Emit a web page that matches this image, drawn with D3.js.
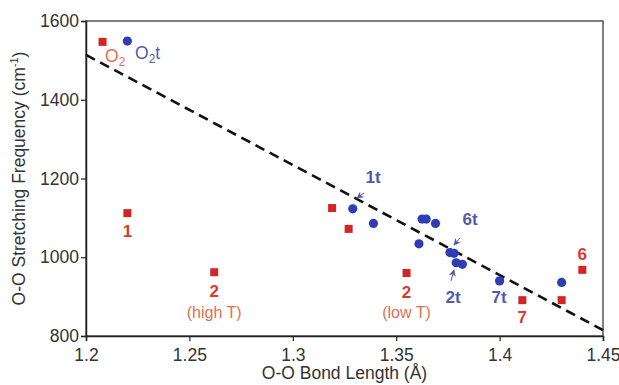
<!DOCTYPE html>
<html>
<head>
<meta charset="utf-8">
<script src="https://cdn.jsdelivr.net/npm/d3@7"></script>
<style>
  body { margin: 0; background: #fff; }
  svg { font-family: "Liberation Sans", Arial, sans-serif; }
</style>
</head>
<body>
<svg id="chart" width="619" height="385"></svg>
<script>
// experimental (red squares): O-O bond length (Å), stretching frequency (cm-1)
const exp_len  = [1.208, 1.220, 1.262, 1.319, 1.327, 1.355, 1.411, 1.430, 1.440];
const exp_freq = [1547, 1112, 962, 1125, 1072, 960, 891, 891, 968];

// theory (blue circles)
const th_len  = [1.220, 1.329, 1.339, 1.3625, 1.3645, 1.369, 1.361, 1.376, 1.378, 1.379, 1.382, 1.400, 1.430];
const th_freq = [1549, 1123, 1086, 1097, 1097, 1086, 1034, 1012, 1010, 986, 982, 940, 936];

// dashed fit line end points
const fit_len  = [1.2, 1.45];
const fit_freq = [1514, 815];

const x_ticks = [1.2, 1.25, 1.3, 1.35, 1.4, 1.45];
const y_ticks = [800, 1000, 1200, 1400, 1600];

const RED = "#d42424", RED_LBL = "#d93a2c", RED_LIGHT = "#e2704f";
const BLUE = "#2f3db4", BLUE_LBL = "#5558b3";

const svg = d3.select("#chart");
const x = d3.scaleLinear().domain([1.2, 1.45]).range([86, 603]);
const y = d3.scaleLinear().domain([800, 1600]).range([336, 21]);

// frame
svg.append("rect")
    .attr("x", x(1.2)).attr("y", y(1600))
    .attr("width", x(1.45) - x(1.2)).attr("height", y(800) - y(1600))
    .attr("fill", "none").attr("stroke", "#555").attr("stroke-width", 1.5);

// axes
const xAxis = svg.append("g")
    .attr("transform", `translate(0,${y(800)})`)
    .call(d3.axisBottom(x).tickValues(x_ticks).tickSize(5).tickFormat(d3.format("")));
const yAxis = svg.append("g")
    .attr("transform", `translate(${x(1.2)},0)`)
    .call(d3.axisLeft(y).tickValues(y_ticks).tickSize(5).tickFormat(d3.format("")));

[xAxis, yAxis].forEach(g => {
  g.select(".domain").attr("stroke", "#222").attr("stroke-width", 1.5);
  g.selectAll(".tick line").attr("stroke", "#222").attr("stroke-width", 1.2);
  g.selectAll(".tick text")
      .attr("font-size", 17.5).attr("fill", "#333")
      .attr("font-family", "Liberation Sans, Arial, sans-serif");
});
xAxis.selectAll(".tick text").attr("dy", "0.95em");
yAxis.selectAll(".tick text").attr("x", -7);

// axis titles
svg.append("text")
    .attr("x", (x(1.2) + x(1.45)) / 2).attr("y", 379)
    .attr("text-anchor", "middle").attr("font-size", 17.5).attr("fill", "#333")
    .text("O-O Bond Length (Å)");

const yt = svg.append("text")
    .attr("transform", `translate(25,${(y(800) + y(1600)) / 2}) rotate(-90)`)
    .attr("text-anchor", "middle").attr("font-size", 17.5).attr("fill", "#333");
yt.append("tspan").text("O-O Stretching Frequency (cm");
yt.append("tspan").attr("font-size", 11).attr("dy", -7).text("-1");
yt.append("tspan").attr("dy", 7).text(")");

// dashed fit line
svg.append("path")
    .datum(d3.zip(fit_len, fit_freq))
    .attr("d", d3.line().x(d => x(d[0])).y(d => y(d[1])))
    .attr("fill", "none").attr("stroke", "#111")
    .attr("stroke-width", 2.6).attr("stroke-dasharray", "10,6");

// markers
svg.append("g").selectAll("rect")
    .data(d3.zip(exp_len, exp_freq))
    .join("rect")
    .attr("x", d => x(d[0]) - 4).attr("y", d => y(d[1]) - 4)
    .attr("width", 8).attr("height", 8).attr("fill", RED);

svg.append("g").selectAll("circle")
    .data(d3.zip(th_len, th_freq))
    .join("circle")
    .attr("cx", d => x(d[0])).attr("cy", d => y(d[1]))
    .attr("r", 4.6).attr("fill", BLUE);

// labels
function label(tx, ty, str, color, bold, size=17, anchor="middle") {
  return svg.append("text")
      .attr("x", tx).attr("y", ty)
      .attr("text-anchor", anchor)
      .attr("font-size", size)
      .attr("font-weight", bold ? "bold" : "normal")
      .attr("fill", color)
      .text(str);
}

// O2 / O2t with subscripts
const o2 = svg.append("text").attr("x", 105).attr("y", 62)
    .attr("font-size", 17.5).attr("fill", RED_LIGHT);
o2.append("tspan").text("O");
o2.append("tspan").attr("font-size", 12).attr("dy", 4).text("2");

const o2t = svg.append("text").attr("x", 135).attr("y", 59)
    .attr("font-size", 17.5).attr("fill", BLUE_LBL);
o2t.append("tspan").text("O");
o2t.append("tspan").attr("font-size", 12).attr("dy", 4).text("2");
o2t.append("tspan").attr("dy", -4).text("t");

label(x(1.220), 237, "1", RED_LBL, true);
label(x(1.262), 297, "2", RED_LBL, true);
label(x(1.262), 318, "(high T)", RED_LIGHT, false, 16);
label(x(1.355), 298, "2", RED_LBL, true);
label(x(1.355), 318, "(low T)", RED_LIGHT, false, 16);
label(x(1.411), 323, "7", RED_LBL, true);
label(x(1.440), 260, "6", RED_LBL, true);

label(373, 183, "1t", BLUE_LBL, true);
label(470, 225, "6t", BLUE_LBL, true);
label(453, 303, "2t", BLUE_LBL, true);
label(499, 303, "7t", BLUE_LBL, true);

// little pointer arrows
svg.append("defs").append("marker")
    .attr("id", "ah").attr("viewBox", "0 0 10 10")
    .attr("refX", 9).attr("refY", 5)
    .attr("markerWidth", 7).attr("markerHeight", 7)
    .attr("orient", "auto")
  .append("path").attr("d", "M0,0 L10,5 L0,10 L3,5 Z").attr("fill", BLUE_LBL);

const arrows = [
  [[364, 193], [357, 198]],
  [[460, 238], [454, 245]],
  [[451, 281], [454, 270]]
];
svg.append("g").selectAll("line")
    .data(arrows)
    .join("line")
    .attr("x1", d => d[0][0]).attr("y1", d => d[0][1])
    .attr("x2", d => d[1][0]).attr("y2", d => d[1][1])
    .attr("stroke", BLUE_LBL).attr("stroke-width", 1)
    .attr("marker-end", "url(#ah)");
</script>
</body>
</html>
